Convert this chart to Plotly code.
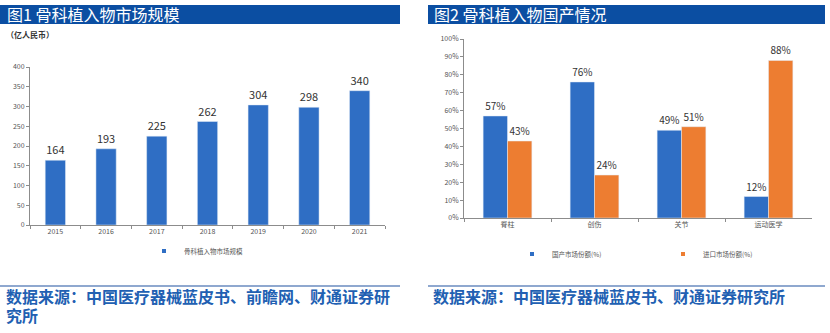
import plotly.graph_objects as go

# Figure 1: orthopaedic implant market size (100 million RMB)
years = ["2015", "2016", "2017", "2018", "2019", "2020", "2021"]
market_size = [164, 193, 225, 262, 304, 298, 340]

# Figure 2: domestic vs imported share by segment (%)
segments = ["脊柱", "创伤", "关节", "运动医学"]
domestic_share = [57, 76, 49, 12]
import_share = [43, 24, 51, 88]

W, H = 830, 333
FONT = "Noto Sans CJK SC"
BLUE = "#2F6EC4"
ORANGE = "#ED7D31"
BAR_HEAD = "#0B4EA2"
SRC_BLUE = "#2160B2"
AXIS = "#8C8C8C"
PAIR_W = 0.28  # width of each bar in the right-hand pairs


def px(x):
    return x / W


def py(y):
    return 1 - y / H


fig = go.Figure()

fig.add_trace(go.Bar(
    x=years, y=market_size, name="骨科植入物市场规模",
    marker_color=BLUE, text=market_size, textposition="outside",
    textfont=dict(size=11, color="#333333", family=FONT),
    cliponaxis=False, xaxis="x", yaxis="y", showlegend=False,
))

fig.add_trace(go.Bar(
    x=segments, y=domestic_share, name="国产市场份额(%)",
    marker_color=BLUE, text=domestic_share, texttemplate="%{text}%",
    textposition="outside", width=PAIR_W, offset=-PAIR_W,
    textfont=dict(size=10, color="#333333", family=FONT),
    cliponaxis=False, xaxis="x2", yaxis="y2", showlegend=False,
))
fig.add_trace(go.Bar(
    x=segments, y=import_share, name="进口市场份额(%)",
    marker_color=ORANGE, text=import_share, texttemplate="%{text}%",
    textposition="outside", width=PAIR_W, offset=0,
    textfont=dict(size=10, color="#333333", family=FONT),
    cliponaxis=False, xaxis="x2", yaxis="y2", showlegend=False,
))

# Small square legend keys for each series
for name, color, ax, ay, lg in [
    ("骨科植入物市场规模", BLUE, "x", "y", "legend"),
    ("国产市场份额(%)", BLUE, "x2", "y2", "legend2"),
    ("进口市场份额(%)", ORANGE, "x2", "y2", "legend2"),
]:
    fig.add_trace(go.Scatter(
        x=[None], y=[None], mode="markers", name=name,
        marker=dict(symbol="square", size=4, color=color),
        xaxis=ax, yaxis=ay, legend=lg, showlegend=True,
    ))

tick_font = dict(size=7, color="#555555", family=FONT)
axis_common = dict(showgrid=False, zeroline=False, showline=True,
                   linecolor=AXIS, linewidth=1, ticks="outside",
                   tickcolor=AXIS, ticklen=3, tickfont=tick_font,
                   automargin=False)

fig.update_layout(
    width=W, height=H,
    margin=dict(l=0, r=0, t=0, b=0, autoexpand=False),
    paper_bgcolor="white", plot_bgcolor="white",
    font=dict(family=FONT),
    barmode="overlay",
    bargap=0.6,
    xaxis=dict(domain=[px(30), px(385)], anchor="y", tickson="boundaries",
               **axis_common),
    yaxis=dict(domain=[py(225), py(67)], anchor="x", range=[0, 400],
               dtick=50, **axis_common),
    xaxis2=dict(domain=[px(464), px(812)], anchor="y2", tickson="boundaries",
                **axis_common),
    yaxis2=dict(domain=[py(218), py(39)], anchor="x2", range=[0, 100],
                dtick=10, ticksuffix="%", **axis_common),
    legend=dict(orientation="h", x=px(196), xanchor="center", y=py(251),
                yanchor="middle", font=dict(size=6.5, color="#555555"),
                itemwidth=30, bgcolor="rgba(0,0,0,0)"),
    legend2=dict(orientation="h", x=px(512), xanchor="left", y=py(254),
                 yanchor="middle", font=dict(size=6.5, color="#555555"),
                 entrywidth=106, entrywidthmode="pixels", itemwidth=30,
                 bgcolor="rgba(0,0,0,0)"),
    showlegend=True,
)

shapes = [
    # Title bars
    dict(type="rect", xref="paper", yref="paper", x0=px(0), x1=px(400),
         y0=py(24), y1=py(5), fillcolor=BAR_HEAD, line_width=0),
    dict(type="rect", xref="paper", yref="paper", x0=px(428), x1=px(825),
         y0=py(24), y1=py(5), fillcolor=BAR_HEAD, line_width=0),
    # Separator lines above the source notes
    dict(type="line", xref="paper", yref="paper", x0=px(0), x1=px(400),
         y0=py(286), y1=py(286), line=dict(color="#8FA8CF", width=2)),
    dict(type="line", xref="paper", yref="paper", x0=px(428), x1=px(825),
         y0=py(286), y1=py(286), line=dict(color="#8FA8CF", width=2)),
]

annotations = [
    dict(text="图1 骨科植入物市场规模", x=px(5), y=py(14.5), xanchor="left",
         yanchor="middle", font=dict(size=16, color="white")),
    dict(text="图2 骨科植入物国产情况", x=px(432), y=py(14.5), xanchor="left",
         yanchor="middle", font=dict(size=16, color="white")),
    dict(text="<b>（亿人民币）</b>", x=px(4), y=py(35), xanchor="left",
         yanchor="middle", font=dict(size=8, color="#333333")),
    dict(text="<b>数据来源：中国医疗器械蓝皮书、前瞻网、财通证券研</b>",
         x=px(4), y=py(296), xanchor="left", yanchor="middle",
         font=dict(size=16, color=SRC_BLUE)),
    dict(text="<b>究所</b>",
         x=px(4), y=py(315), xanchor="left", yanchor="middle",
         font=dict(size=16, color=SRC_BLUE)),
    dict(text="<b>数据来源：中国医疗器械蓝皮书、财通证券研究所</b>",
         x=px(431), y=py(296), xanchor="left", yanchor="middle",
         font=dict(size=16, color=SRC_BLUE)),
]
for a in annotations:
    a.update(xref="paper", yref="paper", showarrow=False)

fig.update_layout(shapes=shapes, annotations=annotations)

fig.write_html("out.html")
